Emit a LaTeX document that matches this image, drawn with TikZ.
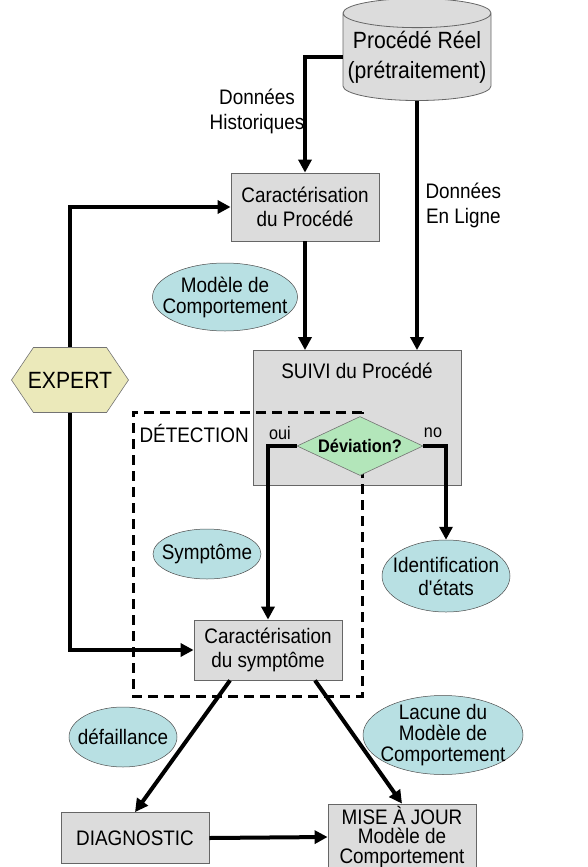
\documentclass[tikz,border=0pt]{standalone}
\usepackage{fontspec}
\setmainfont{Liberation Sans}[FakeStretch=0.9]
\usetikzlibrary{shapes.geometric,shapes.symbols,arrows.meta,backgrounds}

\definecolor{boxgray}{HTML}{DCDCDC}
\definecolor{bubblecyan}{HTML}{B8E0E3}
\definecolor{testgreen}{HTML}{B3E6BA}
\definecolor{expertkhaki}{HTML}{EBE9BA}

\begin{document}
\begin{tikzpicture}[x=1pt,y=-1pt,
  box/.style={rectangle,draw=black!60,line width=0.8pt,fill=boxgray,
    minimum width=148pt,inner sep=0pt,align=center,
    font=\fontsize{21}{24}\selectfont},
  bubble/.style={ellipse,draw=black!70,line width=0.5pt,fill=bubblecyan,
    inner sep=-12pt,align=center,font=\fontsize{21}{21}\selectfont},
  flow/.style={line width=4pt,-{Triangle[length=13pt,width=13pt]}},
  lbl/.style={align=center,font=\fontsize{21}{25}\selectfont}]
  \useasboundingbox (0,0) rectangle (587,867);

  % Real process (data source)
  \node[cylinder,shape border rotate=90,aspect=0.21,draw=black!60,line width=0.8pt,
    fill=boxgray,minimum width=148pt,minimum height=102pt,inner sep=0pt,align=center,
    font=\fontsize{23.5}{30}\selectfont] (real) at (417,57) {Procédé Réel\\(prétraitement)};

  % Process boxes
  \node[box,minimum height=68pt] (cp) at (305,207) {Caractérisation\\du Procédé};
  \node[box,minimum width=208pt,minimum height=135pt,text depth=95pt] (suivi) at (357,418) {SUIVI du Procédé};
  \node[box,minimum height=60pt] (cs) at (268,650) {Caractérisation\\du symptôme};
  \node[box,minimum height=51pt] (diag) at (135,838) {DIAGNOSTIC};
  \node[box,minimum height=66pt,font=\fontsize{21}{19.5}\selectfont] (maj) at (402,837) {MISE À JOUR\\Modèle de\\Comportement};

  % Detection frame
  \draw[line width=3pt,dash pattern=on 10pt off 6pt] (362,412) -| (133,696) -| cycle;
  \node[anchor=west,font=\fontsize{21}{22}\selectfont] (det) at (136,433) {DÉTECTION};

  % Deviation test
  \node[diamond,aspect=2.1,draw=black!55,line width=0.6pt,fill=testgreen,
    minimum width=126pt,minimum height=59pt,inner sep=0pt,
    font=\fontsize{18.2}{19}\bfseries\selectfont] (dev) at (360,446) {Déviation?};
  \node[font=\fontsize{18}{19}\selectfont] (oui) at (280,433) {oui};
  \node[font=\fontsize{18}{19}\selectfont] (no) at (433,433) {no};

  % Expert
  \node[signal,signal to=west and east,signal pointer angle=112,draw=black!55,line width=0.6pt,
    fill=expertkhaki,minimum width=117pt,minimum height=65pt,inner ysep=0pt,inner xsep=-6pt,
    font=\fontsize{23.5}{25}\selectfont] (expert) at (70,380) {EXPERT};

  % Knowledge bubbles
  \node[bubble,minimum width=145pt,minimum height=68pt] (mc) at (225,297) {Modèle de\\Comportement};
  \node[bubble,minimum width=108pt,minimum height=50pt] (sym) at (207,554) {Symptôme};
  \node[bubble,minimum width=128pt,minimum height=72pt,font=\fontsize{21}{23}\selectfont] (ide) at (446,576) {Identification\\d\textquotesingle états};
  \node[bubble,minimum width=108pt,minimum height=60pt] (def) at (123,737) {défaillance};
  \node[bubble,minimum width=160pt,minimum height=79pt] (lac) at (443,735) {Lacune du\\Modèle de\\Comportement};

  % Data labels
  \node[lbl] (hist) at (257,111) {Données\\Historiques};
  \node[lbl,anchor=west] (lig) at (422,205) {Données\\En Ligne};

  % Connections
  \draw[flow] (real.west) -| (cp.north);
  \draw[flow] (real.south) -- (real.south |- suivi.north);
  \draw[flow] (cp.south) -- (cp.south |- suivi.north);
  \draw[flow] (dev.west) -| (cs.north);
  \draw[flow] (dev.east) -| (ide.north);
  \draw[flow] ([xshift=-38pt]cs.south) -- (diag.north);
  \draw[flow] ([xshift=47pt]cs.south) -- (maj.north);
  \draw[flow] (diag.east) -- (maj.west);
  \begin{scope}[on background layer]
    \draw[flow] (expert.center) |- (cp.west);
    \draw[flow] (expert.center) |- (cs.west);
  \end{scope}
\end{tikzpicture}
\end{document}
